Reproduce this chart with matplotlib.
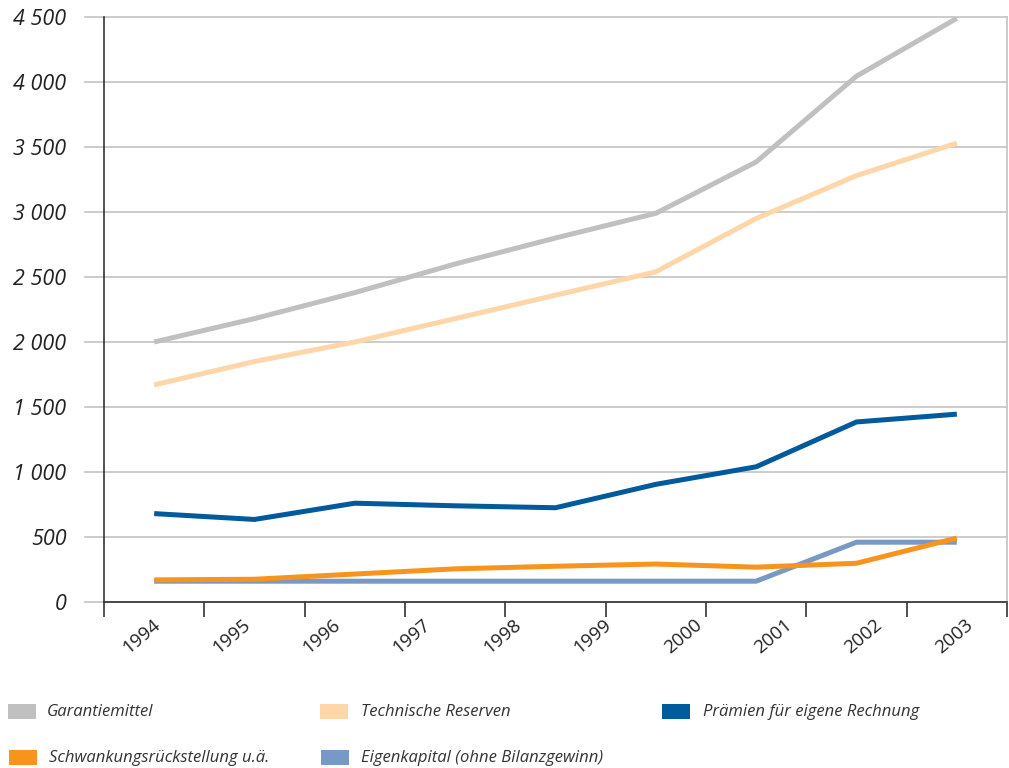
import matplotlib
matplotlib.use('Agg')
import matplotlib.pyplot as plt
from matplotlib.patches import Rectangle

years = ['1994', '1995', '1996', '1997', '1998', '1999', '2000', '2001', '2002', '2003']
y_ticks = [0, 500, 1000, 1500, 2000, 2500, 3000, 3500, 4000, 4500]

garantiemittel = [2000, 2180, 2380, 2600, 2800, 2990, 3385, 4045, 4490]
technische_reserven = [1670, 1850, 2000, 2180, 2360, 2540, 2950, 3280, 3530]
praemien = [680, 635, 760, 740, 725, 905, 1040, 1385, 1445]
eigenkapital = [160, 160, 160, 160, 160, 160, 160, 460, 460]
schwankung = [170, 175, 215, 255, 275, 292, 268, 298, 492]

names = ['Garantiemittel', 'Technische Reserven', 'Prämien für eigene Rechnung',
         'Schwankungsrückstellung u.ä.', 'Eigenkapital (ohne Bilanzgewinn)']
colors = ['#c0c0c0', '#fed6a8', '#005a9c', '#f7941d', '#7898c6']

fig = plt.figure(figsize=(10.09, 7.68), dpi=100)
ax = fig.add_axes([104 / 1009, 1 - 602 / 768, 903 / 1009, 585 / 768])

xs = [i + 0.5 for i in range(len(garantiemittel))]
series = [
    (garantiemittel, colors[0]),
    (technische_reserven, colors[1]),
    (praemien, colors[2]),
    (eigenkapital, colors[4]),
    (schwankung, colors[3]),
]
for vals, col in series:
    ax.plot(xs, vals, color=col, lw=3.6, solid_capstyle='butt', zorder=3)

ax.set_xlim(0, 9)
ax.set_ylim(0, 4500)

# horizontal grid, running a little past the y axis on the left
for v in y_ticks:
    ax.axhline(v, xmin=-0.021, xmax=1, color='#c8c8c8', lw=1.3, clip_on=False, zorder=1)

ax.spines['top'].set_visible(False)
ax.spines['right'].set_color('#c8c8c8')
ax.spines['right'].set_linewidth(1.3)
for side in ['left', 'bottom']:
    ax.spines[side].set_color('#333333')
    ax.spines[side].set_linewidth(1.2)
    ax.spines[side].set_zorder(4)

ax.set_yticks(y_ticks)
ax.set_yticklabels([f'{v:,}'.replace(',', ' ') for v in y_ticks],
                   fontsize=15.5, fontstyle='italic', fontweight='medium',
                   family='Open Sans', color='#222222')
ax.tick_params(axis='y', length=0, pad=27)

ax.set_xticks(range(10))
ax.set_xticklabels([])
ax.tick_params(axis='x', which='major', length=11, width=1.2, color='#333333', direction='out')

ax.set_xticks([(i + 0.5) * 0.9 - 0.08 for i in range(len(years))], minor=True)
ax.set_xticklabels(years, minor=True, rotation=40, ha='center',
                   fontsize=13.5, family='Open Sans', color='#222222')
ax.tick_params(axis='x', which='minor', length=0, pad=10)

# legend boxes and labels
legend_pos = [(8, 704, 47), (320, 704, 361), (662, 704, 703),
              (9, 750, 49), (321, 750, 361)]
for (sx, sy, tx), name, col in zip(legend_pos, names, colors):
    fig.patches.append(Rectangle((sx / 1009, 1 - (sy + 15) / 768), 28 / 1009, 15 / 768,
                                 transform=fig.transFigure, facecolor=col, edgecolor='none'))
    fig.text(tx / 1009, 1 - (sy + 8) / 768, name, fontsize=12, fontstyle='italic',
             family='Open Sans', color='#333333', va='center', ha='left')

fig.savefig('out.png', dpi=100)
